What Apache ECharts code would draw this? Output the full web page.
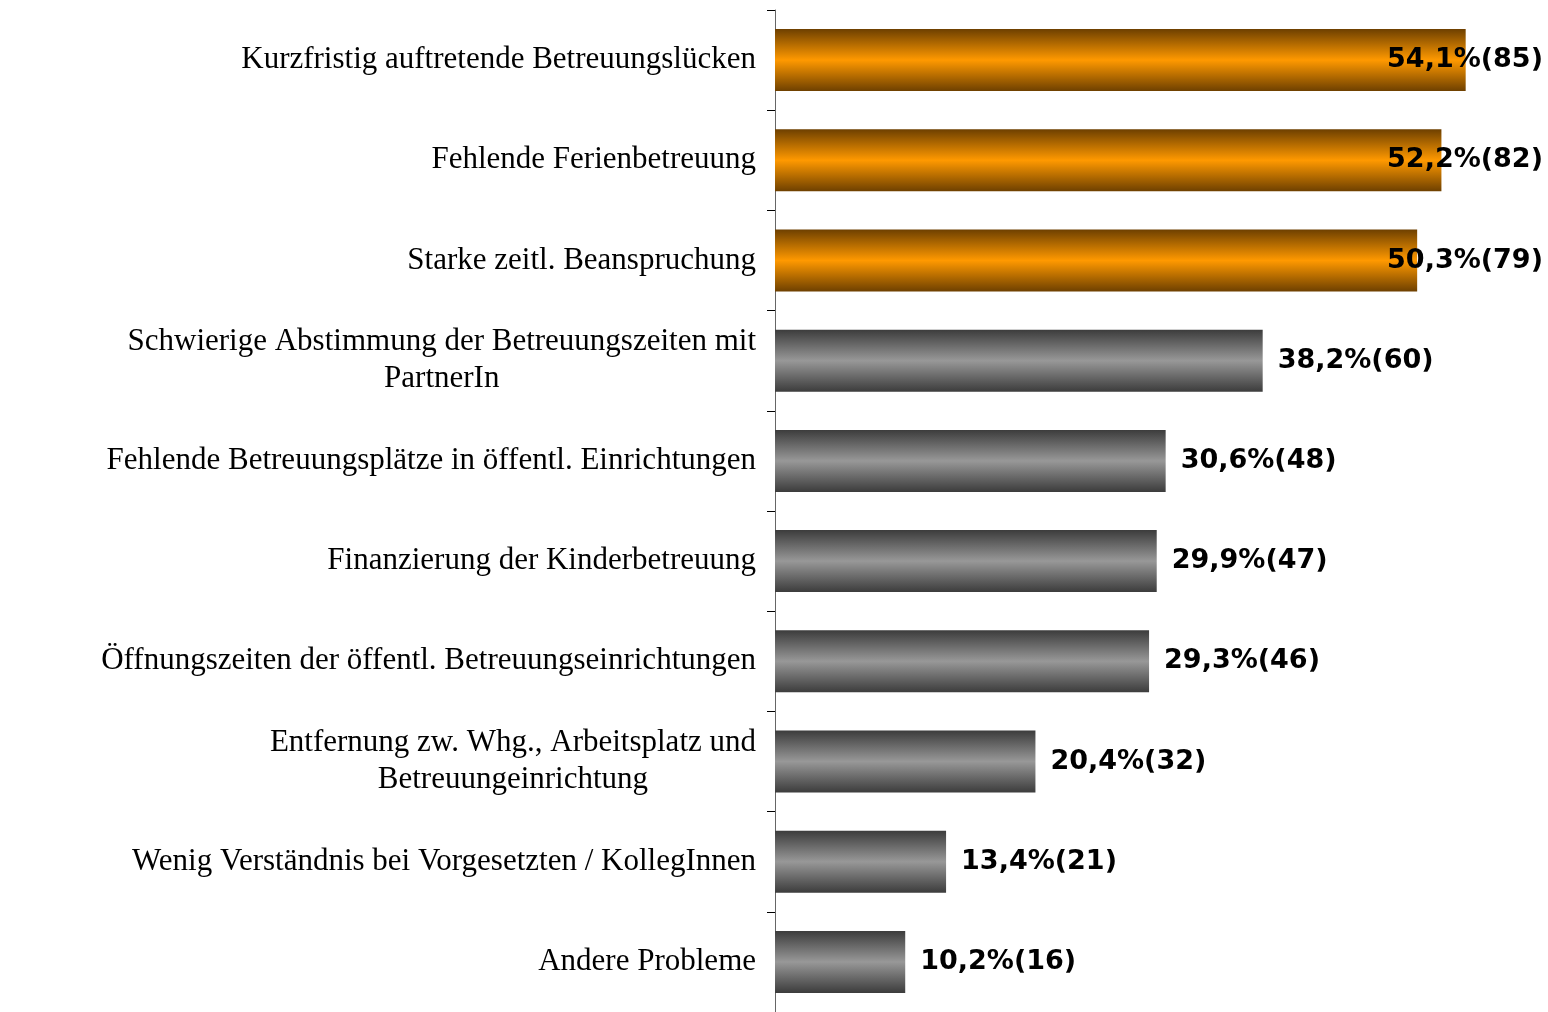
<!DOCTYPE html>
<html>
<head>
<meta charset="utf-8">
<script src="https://cdn.jsdelivr.net/npm/echarts@6/dist/echarts.min.js"></script>
<style>
  html, body { margin: 0; padding: 0; background: #fff; }
  #chart { width: 1548px; height: 1012px; }
</style>
</head>
<body>
<div id="chart"></div>
<script>
// Daten
const kategorien = [
    'Kurzfristig auftretende Betreuungslücken',
    'Fehlende Ferienbetreuung',
    'Starke zeitl. Beanspruchung',
    'Schwierige Abstimmung der Betreuungszeiten mit\nPartnerIn',
    'Fehlende Betreuungsplätze in öffentl. Einrichtungen',
    'Finanzierung der Kinderbetreuung',
    'Öffnungszeiten der öffentl. Betreuungseinrichtungen',
    'Entfernung zw. Whg., Arbeitsplatz und\nBetreuungeinrichtung',
    'Wenig Verständnis bei Vorgesetzten / KollegInnen',
    'Andere Probleme'
];
const prozent = [54.1, 52.2, 50.3, 38.2, 30.6, 29.9, 29.3, 20.4, 13.4, 10.2];
const anzahl = [85, 82, 79, 60, 48, 47, 46, 32, 21, 16];

// Layout
const gridLeft = 775;
const gridWidth = 766;
const xMax = 60;
const pxProProzent = gridWidth / xMax;
const labelRechts = 1543;   // rechter Rand der Labels, die nicht mehr passen
const hervorgehoben = 3;    // die ersten drei Balken orange
const serif = '"Liberation Serif", "Times New Roman", serif';

const orange = new echarts.graphic.LinearGradient(0, 0, 0, 1, [
    { offset: 0, color: '#6e4000' },
    { offset: 0.5, color: '#ff9900' },
    { offset: 1, color: '#6e4000' }
]);
const grau = new echarts.graphic.LinearGradient(0, 0, 0, 1, [
    { offset: 0, color: '#3c3c3c' },
    { offset: 0.5, color: '#989898' },
    { offset: 1, color: '#3c3c3c' }
]);

const daten = prozent.map((p, i) => {
    const item = {
        value: p,
        itemStyle: { color: i < hervorgehoben ? orange : grau }
    };
    if (i < hervorgehoben) {
        // Label ragt in den Balken hinein, rechtsbündig am Rand
        const balkenEnde = gridLeft + p * pxProProzent;
        item.label = {
            position: 'insideRight',
            distance: 5,
            offset: [labelRechts - (balkenEnde - 5), 0]
        };
    }
    return item;
});

const chart = echarts.init(document.getElementById('chart'));
chart.setOption({
    animation: false,
    backgroundColor: '#fff',
    grid: { left: gridLeft, top: 10, width: gridWidth, height: 1002 },
    xAxis: {
        type: 'value',
        min: 0,
        max: xMax,
        show: false
    },
    yAxis: {
        type: 'category',
        data: kategorien,
        inverse: true,
        axisLine: { show: true, lineStyle: { color: '#666', width: 1 } },
        axisTick: { show: true, length: 8, lineStyle: { color: '#000', width: 1 } },
        axisLabel: {
            margin: 19,
            align: 'right',
            color: '#000',
            fontFamily: serif,
            fontSize: 31,
            lineHeight: 37,
            formatter: function (v) {
                if (v.indexOf('\n') < 0) return v;
                return v.split('\n').map(z => '{c|' + z + '}').join('\n');
            },
            rich: {
                c: {
                    align: 'center',
                    color: '#000',
                    fontFamily: serif,
                    fontSize: 31,
                    lineHeight: 37
                }
            }
        }
    },
    series: [{
        type: 'bar',
        barWidth: 62,
        data: daten,
        label: {
            show: true,
            position: 'right',
            distance: 15,
            color: '#000',
            fontFamily: '"DejaVu Sans", Verdana, sans-serif',
            fontWeight: 'bold',
            fontSize: 27,
            formatter: function (p) {
                return prozent[p.dataIndex].toFixed(1).replace('.', ',') + '%(' + anzahl[p.dataIndex] + ')';
            }
        }
    }]
});
</script>
</body>
</html>
